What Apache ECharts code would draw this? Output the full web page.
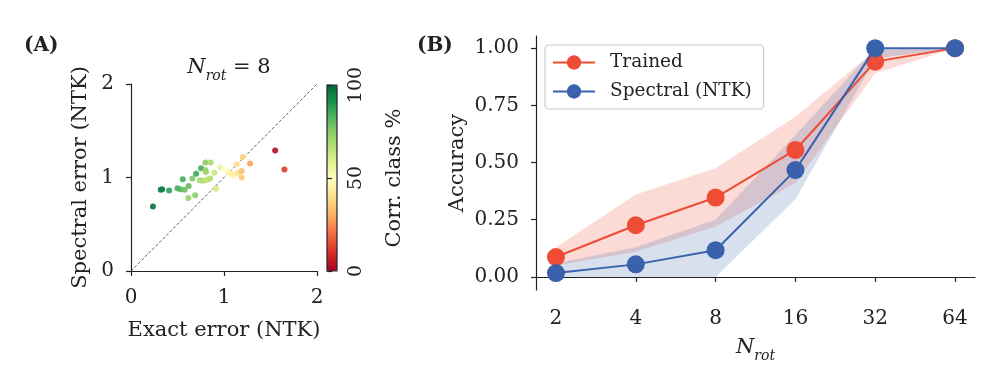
<!DOCTYPE html>
<html>
<head>
<meta charset="utf-8">
<script src="https://cdn.jsdelivr.net/npm/echarts@6/dist/echarts.min.js"></script>
<style>html,body{margin:0;padding:0;background:#fff}#c{width:1000px;height:369px}</style>
</head>
<body>
<div id="c"></div>
<script>
// ---------- Panel A: scatter (exact error, spectral error, correct class %) ----------
const exactErr = [0.236,0.32,0.335,0.41,0.50,0.53,0.575,0.62,0.557,0.617,0.69,0.66,0.70,0.753,0.80,0.857,0.74,0.77,0.80,0.83,0.85,0.807,0.896,0.957,0.914,1.02,1.05,1.08,1.10,1.136,1.15,1.19,1.19,1.20,1.28,1.55,1.65,0.80];
const spectralErr = [0.69,0.87,0.875,0.86,0.885,0.875,0.87,0.91,0.98,0.78,0.81,0.99,1.04,1.10,1.16,1.16,0.97,0.965,0.97,0.98,0.99,1.06,1.05,1.11,0.88,1.08,1.05,1.04,1.02,1.14,1.05,1.07,1.00,1.22,1.15,1.29,1.085,1.08];
const corrClass = [98,96,95,88,85,82,80,80,84,72,74,76,86,84,74,70,70,68,66,64,68,72,64,56,62,50,47,45,45,40,40,33,35,37,28,3,12,72];
const diagonal = [[0,0],[2,2]];

// ---------- Panel B: accuracy vs N_rot ----------
const nRot = [2,4,8,16,32,64];
const trainedMean = [0.087,0.226,0.347,0.555,0.941,1.0];
const trainedLow  = [0.05,0.11,0.22,0.41,0.89,1.0];
const trainedHigh = [0.13,0.36,0.475,0.70,0.99,1.0];
const spectralMean = [0.017,0.055,0.117,0.467,1.0,1.0];
const spectralLow  = [0.0,0.0,0.0,0.34,0.955,1.0];
const spectralHigh = [0.06,0.13,0.25,0.62,1.0,1.0];
const accTicks = [0,0.25,0.5,0.75,1.0];

const FONT = 'DejaVu Serif';
const INK = '#222';
const RED = '#ee4c34';
const BLUE = '#3a62ac';
const RdYlGn = ['#a50026','#d73027','#f46d43','#fdae61','#fee08b','#ffffbf','#d9ef8b','#a6d96a','#66bd63','#1a9850','#006837'];

const scatterData = exactErr.map((x,i)=>[x, spectralErr[i], corrClass[i]]);
const pair = (xs, ys) => xs.map((x,i)=>[x, ys[i]]);

function bandSeries(lo, hi, fill) {
  return {
    type:'custom', xAxisIndex:1, yAxisIndex:1, silent:true, z:1,
    data: nRot.map((n,i)=>[n, lo[i], hi[i]]),
    encode:{x:0, y:[1,2]},
    renderItem:(params, api) => {
      if (params.dataIndex !== 0) return null;
      const top = nRot.map((n,i)=>api.coord([n, hi[i]]));
      const bot = nRot.map((n,i)=>api.coord([n, lo[i]])).reverse();
      return {type:'polygon', shape:{points: top.concat(bot)}, style:{fill: fill}};
    }
  };
}

const axisCommon = {
  axisLine:{show:true, lineStyle:{color:INK, width:1.2}},
  axisTick:{show:true, length:5, lineStyle:{color:INK, width:1.2}},
  splitLine:{show:false},
  axisLabel:{color:INK, fontFamily:FONT, fontSize:20},
  nameTextStyle:{color:INK, fontFamily:FONT, fontSize:21}
};
const subRich = {
  n:{fontFamily:FONT, fontStyle:'italic', fontWeight:'normal', fontSize:21, color:INK, verticalAlign:'bottom', padding:[0,0,5,0]},
  s:{fontFamily:FONT, fontStyle:'italic', fontWeight:'normal', fontSize:14, color:INK, verticalAlign:'bottom'},
  e:{fontFamily:FONT, fontWeight:'normal', fontSize:21, color:INK, verticalAlign:'bottom', padding:[0,0,5,0]}
};

const chart = echarts.init(document.getElementById('c'), null, {renderer:'canvas'});
chart.setOption({
  animation:false,
  backgroundColor:'#fff',
  title:[
    {text:'(A)', left:19, top:31, textStyle:{fontFamily:FONT, fontSize:20, fontWeight:'bold', color:INK}},
    {text:'(B)', left:412, top:31, textStyle:{fontFamily:FONT, fontSize:20, fontWeight:'bold', color:INK}},
    {text:'{n|N}{s|rot}{e| = 8}', left:224, textAlign:'center', top:52,
     textStyle:{fontFamily:FONT, fontWeight:'normal', color:INK, rich:subRich}}
  ],
  grid:[
    {left:131, top:84, width:186, height:187},
    {left:536, top:36, width:439, height:254},
    {left:327, top:85, width:10, height:186, show:true, borderColor:INK, borderWidth:1.2, backgroundColor:'transparent', z:10}
  ],
  xAxis:[
    Object.assign({}, axisCommon, {gridIndex:0, type:'value', min:0, max:2, interval:1,
      axisLabel:Object.assign({}, axisCommon.axisLabel, {margin:17}),
      name:'Exact error (NTK)', nameLocation:'middle', nameGap:49}),
    Object.assign({}, axisCommon, {gridIndex:1, type:'log', logBase:2, min:Math.pow(2,0.75), max:Math.pow(2,6.25),
      axisTick:Object.assign({}, axisCommon.axisTick, {customValues:nRot}),
      axisLabel:Object.assign({}, axisCommon.axisLabel, {customValues:nRot, margin:19, formatter:v=>String(Math.round(v))}),
      name:'{n|N}{s|rot}', nameLocation:'middle', nameGap:47,
      nameTextStyle:{fontFamily:FONT, color:INK, rich:subRich}}),
    {gridIndex:2, type:'value', min:0, max:1, show:false}
  ],
  yAxis:[
    Object.assign({}, axisCommon, {gridIndex:0, type:'value', min:0, max:2, interval:1,
      axisLabel:Object.assign({}, axisCommon.axisLabel, {margin:17}),
      name:'Spectral error (NTK)', nameLocation:'middle', nameGap:40}),
    Object.assign({}, axisCommon, {gridIndex:1, type:'value', min:-0.057, max:1.053,
      axisTick:Object.assign({}, axisCommon.axisTick, {customValues:accTicks}),
      axisLabel:Object.assign({}, axisCommon.axisLabel, {customValues:accTicks, margin:17, formatter:v=>v.toFixed(2)}),
      name:'Accuracy', nameLocation:'middle', nameGap:68}),
    Object.assign({}, axisCommon, {gridIndex:2, type:'value', min:0, max:100, interval:50, position:'right', z:11,
      axisLine:{show:false},
      axisTick:{show:true, length:5, lineStyle:{color:INK, width:1.2}},
      axisLabel:Object.assign({}, axisCommon.axisLabel, {rotate:90, margin:10, fontSize:19}),
      name:'Corr. class %', nameLocation:'middle', nameGap:47, nameRotate:90})
  ],
  visualMap:[{
    type:'continuous', seriesIndex:0, dimension:2, min:0, max:100,
    left:327, top:85, itemWidth:10, itemHeight:186, padding:0,
    calculable:false, text:null, showLabel:false, hoverLink:false,
    inRange:{color:RdYlGn}
  }],
  legend:{
    show:true, orient:'vertical', left:545, top:45,
    data:['Trained','Spectral (NTK)'],
    itemWidth:42, itemHeight:18, itemGap:10,
    padding:[8,12,8,7],
    borderColor:'#cccccc', borderWidth:1.2, borderRadius:4, backgroundColor:'rgba(255,255,255,0.8)',
    textStyle:{fontFamily:FONT, fontSize:18.5, color:INK, padding:[0,0,0,10]}
  },
  series:[
    {type:'scatter', name:'pts', xAxisIndex:0, yAxisIndex:0, data:scatterData, symbolSize:6,
     itemStyle:{opacity:0.9}, z:3},
    {type:'line', name:'diag', xAxisIndex:0, yAxisIndex:0, data:diagonal, showSymbol:false, symbol:'none', silent:true,
     lineStyle:{color:'#333', width:0.8, type:[3,2]}, z:2},
    bandSeries(trainedLow, trainedHigh, 'rgba(238,76,52,0.2)'),
    bandSeries(spectralLow, spectralHigh, 'rgba(58,98,172,0.2)'),
    {type:'line', name:'Trained', xAxisIndex:1, yAxisIndex:1, data:pair(nRot, trainedMean), symbol:'circle', symbolSize:18,
     lineStyle:{color:RED, width:2}, itemStyle:{color:RED}, z:3},
    {type:'line', name:'Spectral (NTK)', xAxisIndex:1, yAxisIndex:1, data:pair(nRot, spectralMean), symbol:'circle', symbolSize:18,
     lineStyle:{color:BLUE, width:2}, itemStyle:{color:BLUE}, z:4}
  ]
});
</script>
</body>
</html>
